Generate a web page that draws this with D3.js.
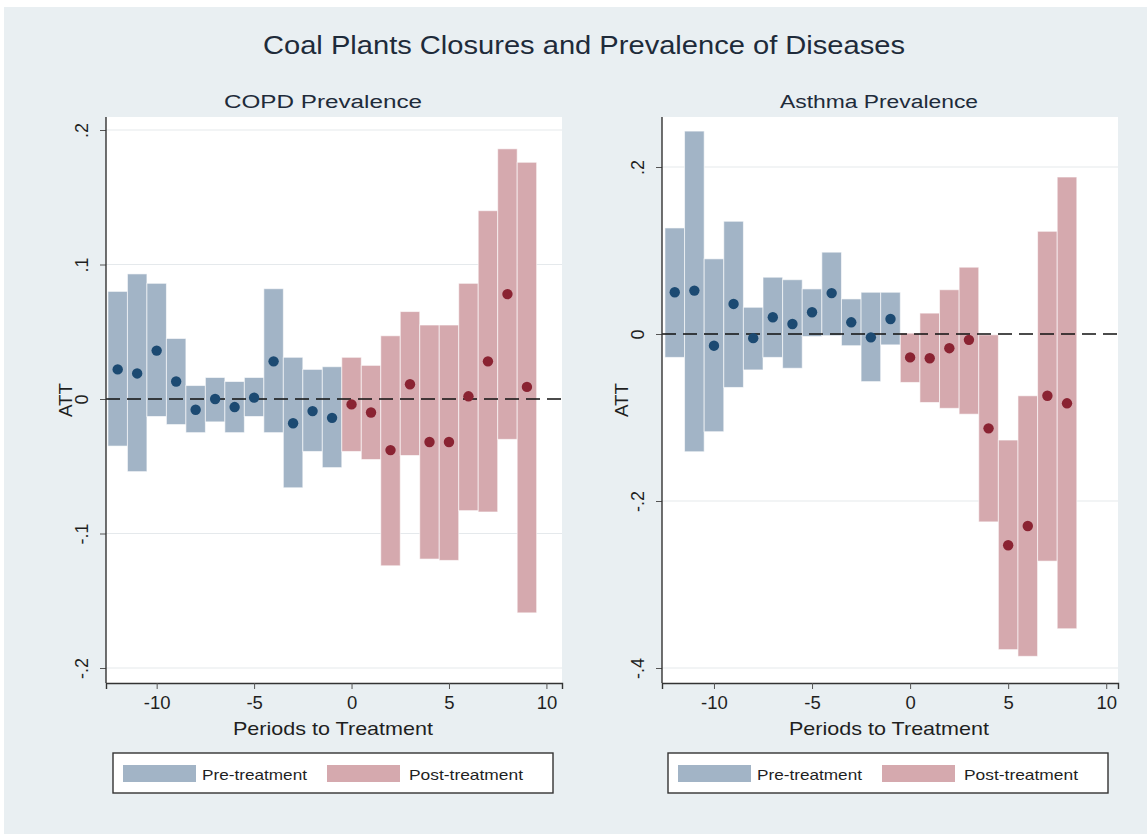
<!DOCTYPE html>
<html>
<head>
<meta charset="utf-8">
<script src="https://cdn.jsdelivr.net/npm/d3@7"></script>
<style>
  body { margin: 0; background: #ffffff; }
  svg { display: block; font-family: "Liberation Sans", Arial, Helvetica, sans-serif; }
</style>
</head>
<body>
<svg id="chart" width="1147" height="834"></svg>
<script>
// ---------- DATA ----------
const mainTitle = "Coal Plants Closures and Prevalence of Diseases";
const legendLabels = ["Pre-treatment", "Post-treatment"];
const xAxisTitle = "Periods to Treatment";
const yAxisTitle = "ATT";
const xTicks = [-10, -5, 0, 5, 10];
const xTickLabels = ["-10", "-5", "0", "5", "10"];

const copdTitle = "COPD Prevalence";
const copdPeriods = [-12,-11,-10,-9,-8,-7,-6,-5,-4,-3,-2,-1,0,1,2,3,4,5,6,7,8,9];
const copdEst = [0.022,0.019,0.036,0.013,-0.008,0.000,-0.006,0.001,0.028,-0.018,-0.009,-0.014,
                 -0.004,-0.010,-0.038,0.011,-0.032,-0.032,0.002,0.028,0.078,0.009];
const copdLo  = [-0.035,-0.054,-0.013,-0.019,-0.025,-0.017,-0.025,-0.013,-0.025,-0.066,-0.039,-0.051,
                 -0.039,-0.045,-0.124,-0.042,-0.119,-0.120,-0.083,-0.084,-0.030,-0.159];
const copdHi  = [0.080,0.093,0.086,0.045,0.010,0.016,0.013,0.016,0.082,0.031,0.022,0.024,
                 0.031,0.025,0.047,0.065,0.055,0.055,0.086,0.140,0.186,0.176];
const copdYTicks = [-0.2, -0.1, 0, 0.1, 0.2];
const copdYTickLabels = ["-.2", "-.1", "0", ".1", ".2"];

const asthmaTitle = "Asthma Prevalence";
const asthmaPeriods = [-12,-11,-10,-9,-8,-7,-6,-5,-4,-3,-2,-1,0,1,2,3,4,5,6,7,8];
const asthmaEst = [0.050,0.052,-0.014,0.036,-0.005,0.020,0.012,0.026,0.049,0.014,-0.004,0.018,
                   -0.028,-0.029,-0.017,-0.007,-0.113,-0.253,-0.230,-0.074,-0.083];
const asthmaLo  = [-0.028,-0.141,-0.117,-0.064,-0.043,-0.028,-0.041,-0.003,-0.002,-0.014,-0.057,-0.013,
                   -0.058,-0.082,-0.089,-0.096,-0.225,-0.378,-0.386,-0.272,-0.353];
const asthmaHi  = [0.127,0.243,0.090,0.135,0.032,0.068,0.065,0.054,0.098,0.042,0.050,0.050,
                   0.001,0.025,0.053,0.080,-0.001,-0.127,-0.074,0.123,0.188];
const asthmaYTicks = [-0.4, -0.2, 0, 0.2];
const asthmaYTickLabels = ["-.4", "-.2", "0", ".2"];

// ---------- STYLE ----------
const bg = "#e9eff2";
const preFill = "#a2b4c6", postFill = "#d5a9ae";
const preDot = "#1c4a72", postDot = "#8a2332";
const textCol = "#1f1f1f";
const titleCol = "#1e2b3a";

const svg = d3.select("#chart");
svg.append("rect").attr("x", 4).attr("y", 7).attr("width", 1143).attr("height", 827).attr("fill", bg);

svg.append("text").attr("x", 584).attr("y", 54).attr("text-anchor", "middle")
  .attr("font-size", 25).attr("fill", titleCol)
  .attr("textLength", 642).attr("lengthAdjust", "spacingAndGlyphs").text(mainTitle);

function panel(cfg) {
  const g = svg.append("g");
  const x = d3.scaleLinear().domain(cfg.xDomain).range([cfg.left, cfg.right]);
  const y = d3.scaleLinear().domain(cfg.yDomain).range(cfg.yRange);
  const top = 117, bottom = 683;
  const cx = (cfg.left + cfg.right) / 2;

  // plot region
  g.append("rect").attr("x", cfg.left).attr("y", top).attr("width", cfg.right - cfg.left)
    .attr("height", bottom - top).attr("fill", "#ffffff");

  // gridlines
  g.selectAll(".grid").data(cfg.yTicks.filter(d => d !== 0)).enter().append("line")
    .attr("x1", cfg.left).attr("x2", cfg.right)
    .attr("y1", d => y(d)).attr("y2", d => y(d))
    .attr("stroke", "#e5e9ec").attr("stroke-width", 1.2);

  // plot title
  g.append("text").attr("x", cx - 11).attr("y", 108)
    .attr("text-anchor", "middle").attr("font-size", 18).attr("fill", titleCol)
    .attr("textLength", 198).attr("lengthAdjust", "spacingAndGlyphs").text(cfg.title);

  const rows = cfg.periods.map((p, i) => ({p, est: cfg.est[i], lo: cfg.lo[i], hi: cfg.hi[i]}));

  // CI bars
  g.selectAll(".bar").data(rows).enter().append("rect")
    .attr("x", d => x(d.p - 0.5))
    .attr("width", d => x(d.p + 0.5) - x(d.p - 0.5))
    .attr("y", d => y(d.hi))
    .attr("height", d => y(d.lo) - y(d.hi))
    .attr("fill", d => d.p < 0 ? preFill : postFill)
    .attr("stroke", "#ffffff").attr("stroke-opacity", 0.6).attr("stroke-width", 1);

  // zero line
  g.append("line").attr("x1", cfg.left).attr("x2", cfg.right)
    .attr("y1", y(0)).attr("y2", y(0))
    .attr("stroke", "#111111").attr("stroke-width", 1.5).attr("stroke-dasharray", "14,7");

  // points
  g.selectAll(".dot").data(rows).enter().append("circle")
    .attr("cx", d => x(d.p)).attr("cy", d => y(d.est)).attr("r", 5.2)
    .attr("fill", d => d.p < 0 ? preDot : postDot);

  // axes
  const xAxis = d3.axisBottom(x).tickValues(xTicks).tickSize(6).tickPadding(7)
    .tickFormat((d, i) => xTickLabels[i]);
  const xa = g.append("g").attr("transform", `translate(0,${bottom})`).call(xAxis);
  xa.select(".domain").attr("stroke", "#333333").attr("stroke-width", 1.4);
  xa.selectAll(".tick line").attr("stroke", "#555555");
  xa.selectAll(".tick text").attr("font-size", 18.5).attr("fill", textCol)
    .attr("font-family", "Liberation Sans, Arial, sans-serif");

  const yAxis = d3.axisLeft(y).tickValues(cfg.yTicks).tickSize(6)
    .tickFormat((d, i) => cfg.yTickLabels[i]);
  const ya = g.append("g").attr("transform", `translate(${cfg.left},0)`).call(yAxis);
  ya.select(".domain").remove();
  g.append("line").attr("x1", cfg.left).attr("x2", cfg.left).attr("y1", top).attr("y2", bottom)
    .attr("stroke", "#333333").attr("stroke-width", 1.4);
  ya.selectAll(".tick line").attr("stroke", "#555555");
  ya.selectAll(".tick text").attr("font-size", 18).attr("fill", textCol)
    .attr("font-family", "Liberation Sans, Arial, sans-serif")
    .attr("x", null).attr("dy", null)
    .attr("text-anchor", "middle")
    .attr("transform", "translate(-18,0) rotate(-90)");

  // axis titles
  g.append("text").attr("x", cx - 1).attr("y", 735)
    .attr("text-anchor", "middle").attr("font-size", 19).attr("fill", textCol)
    .attr("textLength", 200).attr("lengthAdjust", "spacingAndGlyphs").text(xAxisTitle);
  g.append("text").attr("transform", `translate(${cfg.left - 34},400) rotate(-90)`)
    .attr("text-anchor", "middle").attr("font-size", 18.5).attr("fill", textCol)
    .attr("textLength", 34).attr("lengthAdjust", "spacingAndGlyphs").text(yAxisTitle);

  // legend
  const lx = cfg.legendX, ly = 753;
  const lg = g.append("g");
  lg.append("rect").attr("x", lx).attr("y", ly).attr("width", 440).attr("height", 40)
    .attr("fill", "#ffffff").attr("stroke", "#333333").attr("stroke-width", 1.4);
  const fills = [preFill, postFill];
  const offs = [[10, 89], [214, 296]];
  const lens = [105, 114];
  legendLabels.forEach((lab, i) => {
    lg.append("rect").attr("x", lx + offs[i][0]).attr("y", ly + 12).attr("width", 73).attr("height", 17)
      .attr("fill", fills[i]);
    lg.append("text").attr("x", lx + offs[i][1]).attr("y", ly + 27).attr("font-size", 15)
      .attr("fill", textCol).attr("textLength", lens[i]).attr("lengthAdjust", "spacingAndGlyphs").text(lab);
  });
}

panel({
  title: copdTitle, periods: copdPeriods, est: copdEst, lo: copdLo, hi: copdHi,
  xDomain: [-12.6, 10.8], left: 106, right: 562,
  yDomain: [-0.2, 0.2], yRange: [668, 130],
  yTicks: copdYTicks, yTickLabels: copdYTickLabels, legendX: 113
});
panel({
  title: asthmaTitle, periods: asthmaPeriods, est: asthmaEst, lo: asthmaLo, hi: asthmaHi,
  xDomain: [-12.65, 10.6], left: 662, right: 1118,
  yDomain: [-0.4, 0.2], yRange: [668, 167],
  yTicks: asthmaYTicks, yTickLabels: asthmaYTickLabels, legendX: 668
});
</script>
</body>
</html>
